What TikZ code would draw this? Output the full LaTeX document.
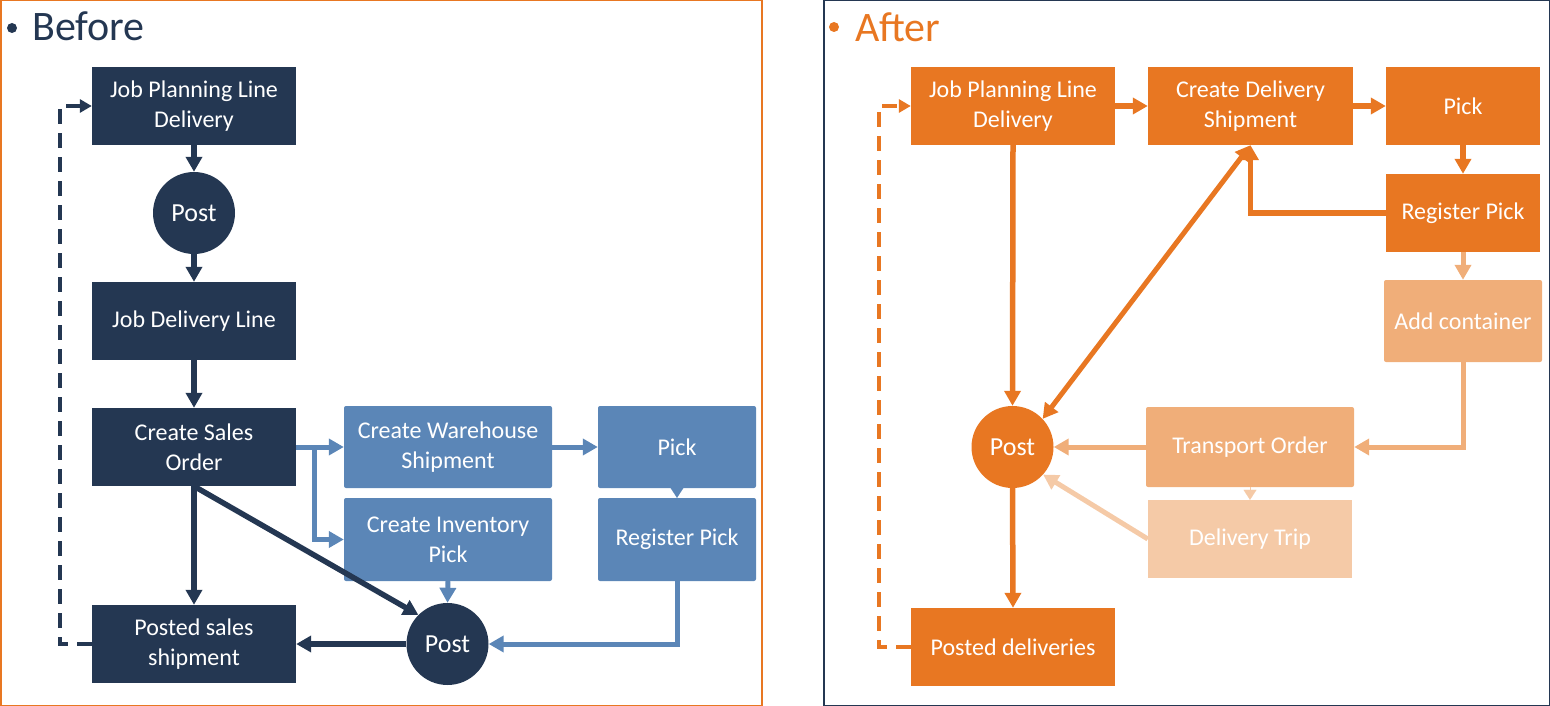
\documentclass[tikz,border=0pt]{standalone}
\usepackage{fontspec}
\setmainfont{Carlito}
\usetikzlibrary{arrows.meta}
\definecolor{navy}{HTML}{243752}
\definecolor{lblue}{HTML}{5B86B7}
\definecolor{orng}{HTML}{E87722}
\definecolor{lorng}{HTML}{F0AE79}
\definecolor{llorng}{HTML}{F5CAA7}
\tikzset{
  box/.style={rectangle, inner sep=0pt, align=center, text=white,
    font=\fontsize{24}{30}\selectfont},
  dbox/.style={box, fill=navy, minimum width=204pt, minimum height=78pt},
  bbox/.style={box, fill=lblue, rounded corners=2pt},
  obox/.style={box, fill=orng},
  lobox/.style={box, fill=lorng, rounded corners=2pt},
  llobox/.style={box, fill=llorng},
  pcirc/.style={circle, inner sep=0pt, minimum size=82pt, text=white,
    font=\fontsize{26}{30}\selectfont},
  tip/.style={-{Triangle[length=15pt,width=16pt]}},
  darr/.style={tip, draw=navy, line width=5.5pt},
  barr/.style={tip, draw=lblue, line width=5pt},
  oarr/.style={tip, draw=orng, line width=5.5pt},
  loarr/.style={tip, draw=lorng, line width=5pt},
  lloarr/.style={tip, draw=llorng, line width=5pt},
  smalltri/.style={-{Triangle[length=10pt,width=13pt]}, line width=0.1pt},
  dashline/.style={dash pattern=on 15pt off 9pt, line width=4.5pt,
    -{Triangle[length=12pt,width=13pt]}},
  title/.style={anchor=base west, font=\fontsize{42}{50}\selectfont, inner sep=0pt}
}
\begin{document}
\begin{tikzpicture}[x=1pt,y=-1pt]
\useasboundingbox (0,0) rectangle (1550,706);
% frames
\draw[orng, line width=1.5pt] (0.75,0.75) rectangle (762,705.25);
\draw[navy, line width=1.5pt] (823.75,0.75) rectangle (1549.25,705.25);
% titles
\fill[navy] (12,28) circle (5);
\node[title, text=navy] (tb) at (32,41) {Before};
\fill[orng] (834,27) circle (5);
\node[title, text=orng] (ta) at (855,42) {After};

% ---------- Before ----------
\node[dbox] (jpl) at (194,106) {Job Planning Line\\Delivery};
\node[pcirc, fill=navy] (p1) at (194,213) {Post};
\node[dbox] (jdl) at (194,321) {Job Delivery Line};
\node[dbox] (cso) at (194,447) {Create Sales\\Order};
\node[dbox] (pss) at (194,644) {Posted sales\\shipment};
\node[bbox, minimum width=208pt, minimum height=82pt] (cws) at (448,447) {Create Warehouse\\Shipment};
\node[bbox, minimum width=158pt, minimum height=82pt] (pk1) at (677,447) {Pick};
\node[bbox, minimum width=208pt, minimum height=83pt] (cip) at (448,539.5) {Create Inventory\\Pick};
\node[bbox, minimum width=158pt, minimum height=83pt] (rp1) at (677,539.5) {Register Pick};
\node[pcirc, fill=navy] (p2) at (447.5,644) {Post};

\draw[darr] (jpl.south) -- (p1.north);
\draw[darr] (p1.south) -- (jdl.north);
\draw[darr] (jdl.south) -- (cso.north);
\draw[darr] (cso.south) -- (pss.north);
\draw[darr] (cso.south) -- (p2.135);
\draw[darr] (p2.west) -- (pss.east);
\coordinate (br) at (314,447);
\draw[barr] (cso.east) -- (cws.west);
\draw[barr] (br) |- (cip.west);
\draw[barr] (cws.east) -- (pk1.west);
\draw[smalltri, draw=lblue] (pk1.south) -- (rp1.north);
\draw[barr] (cip.south) -- (p2.north);
\draw[barr] (rp1.south) |- (p2.east);
\coordinate (dl) at (60,644);
\draw[dashline, draw=navy] (pss.west) -- (dl) |- (jpl.west);

% ---------- After ----------
\node[obox, minimum width=204pt, minimum height=78pt] (jpl2) at (1013,106) {Job Planning Line\\Delivery};
\node[obox, minimum width=205pt, minimum height=78pt] (cds) at (1250.5,106) {Create Delivery\\Shipment};
\node[obox, minimum width=154pt, minimum height=78pt] (pk2) at (1463,106) {Pick};
\node[obox, minimum width=154pt, minimum height=78pt] (rp2) at (1463,213) {Register Pick};
\node[lobox, minimum width=158pt, minimum height=82pt] (add) at (1463,321) {Add container};
\node[pcirc, fill=orng] (p3) at (1012.5,447) {Post};
\node[lobox, minimum width=208pt, minimum height=80pt] (tor) at (1250,447) {Transport Order};
\node[llobox, minimum width=204pt, minimum height=78pt] (dt) at (1250,539) {Delivery Trip};
\node[obox, minimum width=204pt, minimum height=78pt] (pd) at (1013,647) {Posted deliveries};

\draw[oarr] (jpl2.east) -- (cds.west);
\draw[oarr] (cds.east) -- (pk2.west);
\draw[oarr] (pk2.south) -- (rp2.north);
\draw[oarr] (rp2.west) -| (cds.south);
\draw[draw=orng, line width=5pt, {Triangle[length=15pt,width=16pt]}-{Triangle[length=15pt,width=16pt]}] (p3.43) -- (cds.south);
\draw[oarr] (jpl2.south) -- (p3.north);
\draw[loarr] (rp2.south) -- (add.north);
\draw[loarr] (add.south) |- (tor.east);
\draw[loarr] (tor.west) -- (p3.east);
\draw[smalltri, draw=llorng] (tor.south) -- (dt.north);
\draw[lloarr] (dt.west) -- (p3.-42);
\draw[oarr] (p3.south) -- (pd.north);
\coordinate (dr) at (879,647);
\draw[dashline, draw=orng] (pd.west) -- (dr) |- (jpl2.west);
\end{tikzpicture}
\end{document}
